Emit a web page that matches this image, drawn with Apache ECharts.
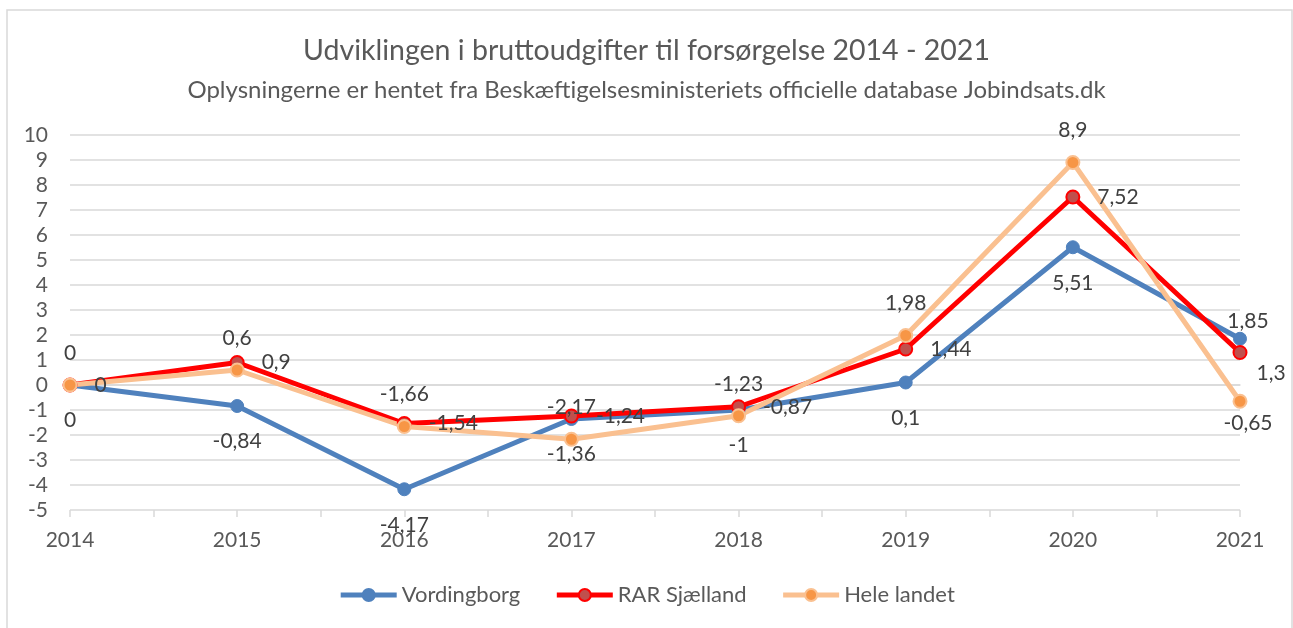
<!DOCTYPE html>
<html>
<head>
<meta charset="utf-8">
<script src="https://cdn.jsdelivr.net/npm/echarts@6/dist/echarts.min.js"></script>
<style>
  html, body { margin: 0; padding: 0; background: #fff; }
  #chart { width: 1293px; height: 628px; }
</style>
</head>
<body>
<div id="chart"></div>
<script>
// data
var years = ["2014", "2015", "2016", "2017", "2018", "2019", "2020", "2021"];
var vordingborg = [0, -0.84, -4.17, -1.36, -1, 0.1, 5.51, 1.85];
var rarSjaelland = [0, 0.9, -1.54, -1.24, -0.87, 1.44, 7.52, 1.3];
var heleLandet = [0, 0.6, -1.66, -2.17, -1.23, 1.98, 8.9, -0.65];
var yTicks = { min: -5, max: 10, step: 1 };

var FONT = "Lato";
var fmt = function (v) { return String(v).replace(".", ","); };

// ticks also sit halfway between the years, like the original
var halfTicks = years.reduce(function (acc, y, i) {
  if (i > 0) acc.push("");
  acc.push(y);
  return acc;
}, []);

function seriesData(values, pos, dist, lastLabel) {
  return values.map(function (v, i) {
    var item = { value: v, label: { position: pos, distance: dist } };
    if (i === values.length - 1 && lastLabel) item.label = lastLabel;
    return item;
  });
}

var labelStyle = { show: true, color: "#404040", fontSize: 21, fontFamily: FONT, formatter: function (p) { return fmt(p.value); } };

var chart = echarts.init(document.getElementById("chart"));
chart.setOption({
  animation: false,
  textStyle: { fontFamily: FONT },
  graphic: [{
    type: "rect", shape: { x: 7, y: 10, width: 1285, height: 630 },
    style: { fill: "none", stroke: "#d9d9d9", lineWidth: 1.5 }, silent: true
  }],
  title: {
    text: "Udviklingen i bruttoudgifter til forsørgelse 2014 - 2021",
    subtext: "Oplysningerne er hentet fra Beskæftigelsesministeriets officielle database Jobindsats.dk",
    left: "center",
    top: 31,
    itemGap: 13,
    textStyle: { fontSize: 28.5, fontWeight: "normal", color: "#595959", fontFamily: FONT },
    subtextStyle: { fontSize: 24, color: "#595959", fontFamily: FONT }
  },
  legend: {
    bottom: 17,
    left: "center",
    itemWidth: 56,
    itemHeight: 15,
    itemGap: 34,
    lineStyle: { width: 5 },
    textStyle: { fontSize: 22, color: "#595959", fontFamily: FONT },
    data: ["Vordingborg", "RAR Sjælland", "Hele landet"]
  },
  grid: { left: 70, right: 53, top: 135, bottom: 118 },
  xAxis: [{
    type: "category",
    data: years,
    boundaryGap: false,
    axisLine: { lineStyle: { color: "#d9d9d9", width: 1.5 } },
    axisTick: { show: false },
    axisLabel: { color: "#595959", fontSize: 21, margin: 20, fontFamily: FONT }
  }, {
    type: "category",
    data: halfTicks,
    boundaryGap: false,
    position: "bottom",
    axisLine: { show: false },
    axisTick: { show: true, length: 7, lineStyle: { color: "#d9d9d9", width: 1.5 } },
    axisLabel: { show: false }
  }],
  yAxis: {
    type: "value",
    min: yTicks.min,
    max: yTicks.max,
    interval: yTicks.step,
    axisLine: { show: false },
    axisTick: { show: false },
    splitLine: { lineStyle: { color: "#d9d9d9", width: 1.5 } },
    axisLabel: { color: "#595959", fontSize: 21, margin: 22, fontFamily: FONT }
  },
  series: [{
    name: "Vordingborg",
    type: "line",
    data: seriesData(vordingborg, "bottom", 18, { position: "top", distance: 0, offset: [8, 0] }),
    symbol: "circle",
    symbolSize: 13,
    lineStyle: { color: "#4F81BD", width: 5 },
    itemStyle: { color: "#4F81BD", borderColor: "#4F81BD", borderWidth: 1 },
    label: labelStyle
  }, {
    name: "RAR Sjælland",
    type: "line",
    data: seriesData(rarSjaelland, "right", 17, { position: "right", distance: 9, offset: [0, 21] }),
    symbol: "circle",
    symbolSize: 13,
    lineStyle: { color: "#FF0000", width: 5 },
    itemStyle: { color: "#C0504D", borderColor: "#FF0000", borderWidth: 2 },
    label: labelStyle
  }, {
    name: "Hele landet",
    type: "line",
    data: seriesData(heleLandet, "top", 14, { position: "bottom", distance: 4, offset: [8, 0] }),
    symbol: "circle",
    symbolSize: 13,
    lineStyle: { color: "#FAC090", width: 5 },
    itemStyle: { color: "#F79646", borderColor: "#FAC090", borderWidth: 2 },
    label: labelStyle
  }]
});
</script>
</body>
</html>
